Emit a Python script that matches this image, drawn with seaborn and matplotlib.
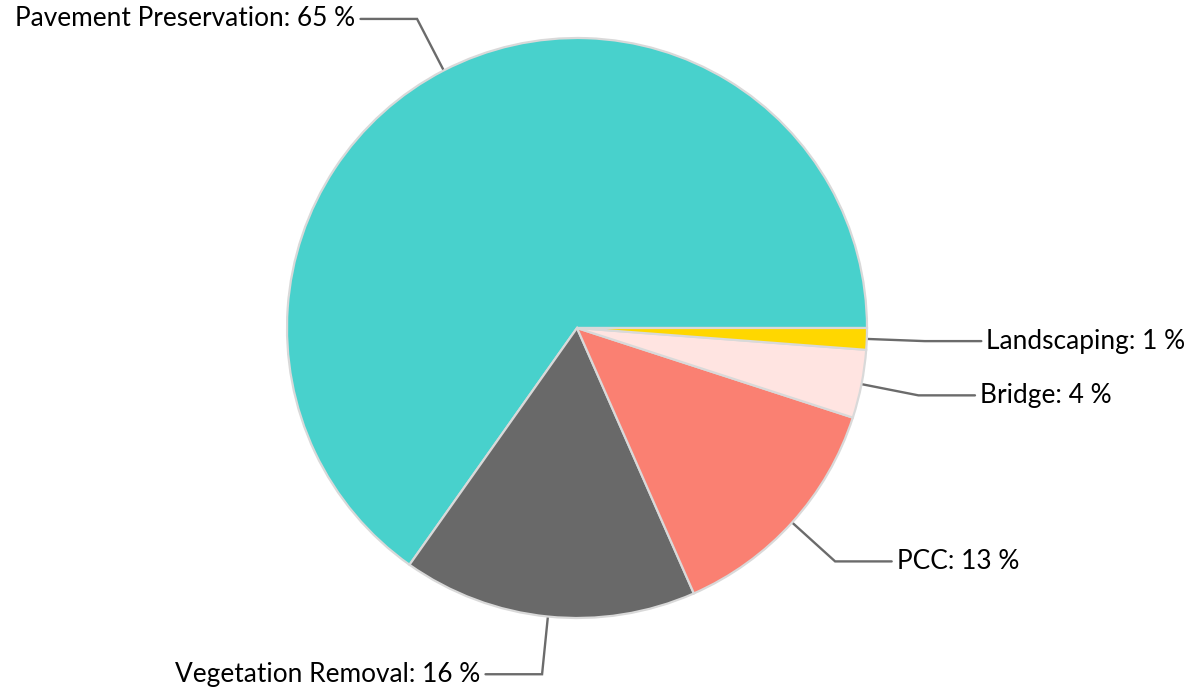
import numpy as np
import matplotlib.pyplot as plt
import seaborn as sns

categories = ['Pavement Preservation', 'Vegetation Removal', 'PCC', 'Bridge', 'Landscaping']
shares = [65.2, 16.4, 13.4, 3.8, 1.2]
colors = ['#48D1CC', '#696969', '#FA8072', '#FFE4E1', '#FFD700']

sns.set_theme(style='white')
plt.rcParams['font.family'] = ['Lato', 'DejaVu Sans']

fig = plt.figure(figsize=(12.01, 6.93), dpi=100)
ax = fig.add_axes([0, 0, 1, 1])

wedges, _ = ax.pie(shares, colors=colors, startangle=0, counterclock=True,
                   wedgeprops=dict(edgecolor='#d9d9d9', linewidth=1.6))

# pie centre at (577, 328) px, radius 290 px
ax.set_xlim(-577 / 290, (1201 - 577) / 290)
ax.set_ylim(-(693 - 328) / 290, 328 / 290)
ax.set_aspect('auto')
ax.axis('off')

# connector lines + labels
for w, name, val in zip(wedges, categories, shares):
    mid = np.deg2rad((w.theta1 + w.theta2) / 2)
    x0, y0 = np.cos(mid), np.sin(mid)
    x1, y1 = 1.2 * x0, 1.2 * y0
    side = 1 if x0 >= 0 else -1
    x2 = x1 + side * 0.195
    ax.plot([x0, x1, x2], [y0, y1, y1], color='#6b6b6b', linewidth=1.7,
            solid_joinstyle='miter', zorder=0)
    ax.text(x2 + side * 0.017, y1, f'{name}: {round(val)} %',
            ha='left' if side > 0 else 'right', va='center',
            fontsize=18.9, color='black')

plt.savefig('out.png', dpi=100)
